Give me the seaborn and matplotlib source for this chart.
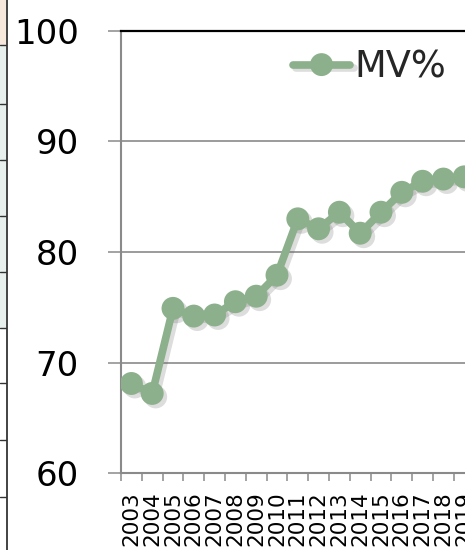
import matplotlib
matplotlib.use("Agg")
import matplotlib.pyplot as plt
import matplotlib.patheffects as pe
from matplotlib.patches import Rectangle
from matplotlib.lines import Line2D
import seaborn as sns
import pandas as pd
import numpy as np

years = ["2003", "2004", "2005", "2006", "2007", "2008", "2009", "2010", "2011",
         "2012", "2013", "2014", "2015", "2016", "2017", "2018", "2019"]
mv_pct = [68.1, 67.2, 74.9, 74.2, 74.3, 75.5, 76.0, 77.9, 83.0,
          82.1, 83.6, 81.7, 83.6, 85.4, 86.4, 86.6, 86.8]
series_name = "MV%"
y_ticks = [60, 70, 80, 90, 100]

df = pd.DataFrame({"pos": np.arange(len(years)), "value": mv_pct})

sns.set_theme(style="white")
plt.rcParams["font.family"] = ["DejaVu Sans"]

W, H = 465, 550
fig = plt.figure(figsize=(W / 100, H / 100), dpi=100)

# partial table strip at the left edge (cropped screenshot artefact)
fig.patches.append(Rectangle((0, 1 - 45 / H), 6 / W, 45 / H, transform=fig.transFigure,
                             facecolor="#F6E8DA", edgecolor="none"))
fig.patches.append(Rectangle((0, 1 - 328 / H), 6 / W, (328 - 45) / H, transform=fig.transFigure,
                             facecolor="#E8F0EE", edgecolor="none"))
fig.lines.append(Line2D([6.5 / W, 6.5 / W], [0, 1], transform=fig.transFigure,
                        color="#222222", lw=1.2))
for yy in [45, 104, 160, 216, 272, 328, 383, 440, 497]:
    fig.lines.append(Line2D([0, 6 / W], [1 - yy / H, 1 - yy / H], transform=fig.transFigure,
                            color="#333333", lw=1.0))

band = 20.8
ax_left, ax_bottom, ax_top = 121 / W, 1 - 473 / H, 1 - 31 / H
ax = fig.add_axes([ax_left, ax_bottom, len(years) * band / W, ax_top - ax_bottom])

color = "#8CB08B"

# shadow layer for markers
sns.scatterplot(data=df, x="pos", y="value", ax=ax, s=(16.5) ** 2, color=color,
                linewidth=0, zorder=2, legend=False,
                path_effects=[pe.SimplePatchShadow(offset=(2.5, -2.5), shadow_rgbFace="#666666",
                                                   alpha=0.22)])

sns.lineplot(data=df, x="pos", y="value", ax=ax, color=color, lw=5.5, marker="o",
             markersize=16.5, markeredgewidth=0, markerfacecolor=color, label=series_name,
             zorder=3,
             path_effects=[pe.SimpleLineShadow(offset=(2.5, -2.5), shadow_color="#666666",
                                               alpha=0.22), pe.Normal()])

ax.set_xlim(-0.5, len(years) - 0.5)
ax.set_ylim(60, 100)
ax.set_xlabel("")
ax.set_ylabel("")

ax.set_yticks(y_ticks)
ax.set_yticklabels([str(t) for t in y_ticks])
ax.yaxis.grid(True, color="#8A8A8A", lw=1.2)
ax.xaxis.grid(False)
ax.set_axisbelow(True)

ax.set_xticks(np.arange(len(years)))
ax.set_xticklabels(years, rotation=90, va="top", ha="center")
ax.set_xticks(np.arange(len(years) + 1) - 0.5, minor=True)

ax.tick_params(axis="y", which="major", direction="out", length=9.4, width=1.1,
               color="#8A8A8A", pad=21, labelsize=24.5, labelcolor="black", left=True)
ax.tick_params(axis="x", which="major", length=0, pad=13, labelsize=15.5, labelcolor="black")
ax.tick_params(axis="x", which="minor", direction="out", length=5.8, width=1.1,
               color="#8A8A8A", bottom=True)

for side in ["left", "bottom"]:
    ax.spines[side].set_color("#8A8A8A")
    ax.spines[side].set_linewidth(1.5)
ax.spines["top"].set_color("black")
ax.spines["top"].set_linewidth(1.6)
ax.spines["right"].set_visible(False)

leg = ax.legend(loc="center left", bbox_to_anchor=(293 / W, 1 - 67 / H),
                bbox_transform=fig.transFigure, frameon=False, fontsize=26.5,
                handlelength=1.55, handletextpad=0.12, borderpad=0, borderaxespad=0)

fig.savefig("out.png", dpi=100)
